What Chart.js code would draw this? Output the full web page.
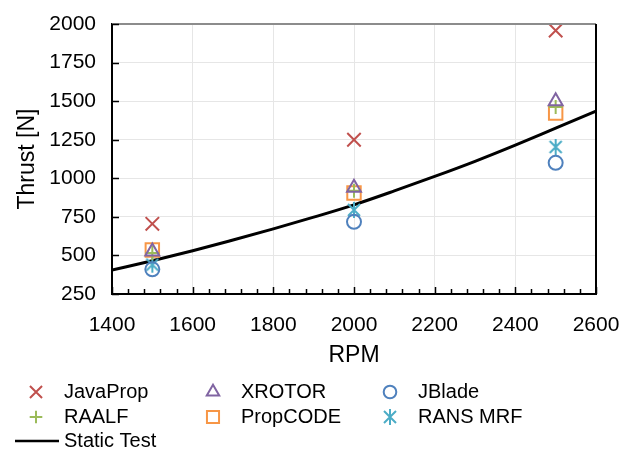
<!DOCTYPE html>
<html>
<head>
<meta charset="utf-8">
<script src="https://cdn.jsdelivr.net/npm/chart.js@4.4.1/dist/chart.umd.min.js"></script>
<style>
  html, body { margin: 0; padding: 0; background: #fff; }
  #wrap { width: 628px; height: 451px; position: relative; }
</style>
</head>
<body>
<div id="wrap"><canvas id="thrust"></canvas></div>
<script>
// rpm of the computed cases
const rpm = [1500, 2000, 2500];
const javaProp = [705, 1250, 1958];
const xrotor = [525, 938, 1500];
const raalf = [515, 920, 1462];
const propCode = [535, 905, 1423];
const ransMrf = [440, 795, 1203];
const jBlade = [410, 718, 1100];

// measured static test curve
const testRpm = [1400, 1500, 1600, 1700, 1800, 1900, 2000, 2100, 2200, 2300, 2400, 2500, 2600];
const testThrust = [405, 465, 530, 600, 672, 748, 828, 918, 1012, 1110, 1215, 1325, 1435];

const xTicks = [1400, 1600, 1800, 2000, 2200, 2400, 2600];
const yTicks = [250, 500, 750, 1000, 1250, 1500, 1750, 2000];

const FONT = 'Liberation Sans, Arial, sans-serif';

// six-arm asterisk marker (Chart.js 'star' has eight arms)
function asterisk(color) {
  const c = document.createElement('canvas');
  c.width = 18; c.height = 18;
  const g = c.getContext('2d');
  g.strokeStyle = color;
  g.lineWidth = 2;
  g.beginPath();
  g.moveTo(9, 1); g.lineTo(9, 17);
  g.moveTo(3, 3); g.lineTo(15, 15);
  g.moveTo(15, 3); g.lineTo(3, 15);
  g.stroke();
  return c;
}

function pts(ys) {
  return rpm.map((x, i) => ({ x: x, y: ys[i] }));
}

function marker(label, ys, style, color, radius) {
  return {
    label: label,
    data: pts(ys),
    showLine: false,
    pointStyle: style,
    pointRadius: radius,
    pointHoverRadius: radius,
    pointBorderWidth: 2,
    borderColor: color,
    backgroundColor: 'rgba(0,0,0,0)',
    pointBackgroundColor: 'rgba(0,0,0,0)'
  };
}

const datasets = [
  marker('JavaProp', javaProp, 'crossRot', '#C0504D', 9.5),
  marker('XROTOR', xrotor, 'triangle', '#8064A2', 8),
  marker('JBlade', jBlade, 'circle', '#4F81BD', 7),
  marker('RAALF', raalf, 'cross', '#9BBB59', 7),
  marker('PropCODE', propCode, 'rect', '#F79646', 9.5),
  marker('RANS MRF', ransMrf, asterisk('#4BACC6'), '#4BACC6', 9),
  {
    label: 'Static Test',
    data: testRpm.map((x, i) => ({ x: x, y: testThrust[i] })),
    showLine: true,
    borderColor: '#000',
    borderWidth: 3,
    pointRadius: 0,
    cubicInterpolationMode: 'monotone',
    fill: false
  }
];

// inward tick marks, top/right frame and the legend block under the axes
const decorations = {
  id: 'decorations',
  afterDraw(chart) {
    const ctx = chart.ctx;
    const xs = chart.scales.x, ys = chart.scales.y;
    const a = chart.chartArea;
    ctx.save();

    ctx.strokeStyle = '#8c8c8c';
    ctx.lineWidth = 2;
    ctx.beginPath();
    ctx.moveTo(a.left, a.top); ctx.lineTo(a.right, a.top);
    ctx.stroke();

    ctx.strokeStyle = '#000';
    ctx.lineWidth = 2;
    ctx.beginPath();
    ctx.moveTo(a.right, a.top); ctx.lineTo(a.right, a.bottom);
    ctx.stroke();

    ctx.lineWidth = 1.5;
    ctx.beginPath();
    for (let v = 1400; v <= 2600; v += 40) {
      const px = Math.round(xs.getPixelForValue(v)) + 0.5;
      const len = (v - 1400) % 200 === 0 ? 7 : 5;
      ctx.moveTo(px, a.bottom); ctx.lineTo(px, a.bottom - len);
    }
    yTicks.forEach(v => {
      const py = Math.round(ys.getPixelForValue(v)) + 0.5;
      ctx.moveTo(a.left, py); ctx.lineTo(a.left + 7, py);
    });
    ctx.stroke();

    // legend: three columns, the test curve on its own row
    const cols = [36, 213, 390];
    const rows = [392, 417, 441];
    ctx.font = '20px ' + FONT;
    ctx.textBaseline = 'middle';
    ctx.textAlign = 'left';
    chart.data.datasets.forEach((ds, i) => {
      const y = rows[Math.floor(i / 3)];
      if (ds.showLine === false) {
        const x = cols[i % 3];
        ctx.strokeStyle = ds.borderColor;
        ctx.fillStyle = 'rgba(0,0,0,0)';
        ctx.lineWidth = 2;
        Chart.helpers.drawPoint(ctx, {
          pointStyle: ds.pointStyle,
          radius: ds.pointRadius * 0.9,
          borderWidth: 2,
          rotation: 0
        }, x, y);
        ctx.fillStyle = '#000';
        ctx.fillText(ds.label, x + 28, y);
      } else {
        ctx.strokeStyle = ds.borderColor;
        ctx.lineWidth = 2.5;
        ctx.beginPath();
        ctx.moveTo(15, y); ctx.lineTo(59, y);
        ctx.stroke();
        ctx.fillStyle = '#000';
        ctx.fillText(ds.label, 64, y);
      }
    });
    ctx.restore();
  }
};

new Chart(document.getElementById('thrust'), {
  type: 'scatter',
  data: { datasets: datasets },
  plugins: [decorations],
  options: {
    responsive: true,
    maintainAspectRatio: false,
    animation: false,
    layout: { padding: { left: 14, top: 24, right: 32, bottom: 82 } },
    plugins: {
      legend: { display: false },
      tooltip: { enabled: false }
    },
    scales: {
      x: {
        type: 'linear',
        min: 1400,
        max: 2600,
        afterBuildTicks: s => { s.ticks = xTicks.map(v => ({ value: v })); },
        afterFit: s => { s.height = 75; s.paddingLeft = 0; s.paddingRight = 0; },
        ticks: {
          color: '#000',
          font: { family: FONT, size: 21 },
          padding: 19,
          maxRotation: 0,
          callback: v => String(v)
        },
        grid: { color: '#e6e6e6', lineWidth: 1, drawTicks: false },
        border: { color: '#000', width: 2 },
        title: {
          display: true,
          text: 'RPM',
          color: '#000',
          font: { family: FONT, size: 23 },
          padding: 0
        }
      },
      y: {
        type: 'linear',
        min: 250,
        max: 2000,
        afterBuildTicks: s => { s.ticks = yTicks.map(v => ({ value: v })); },
        afterFit: s => { s.width = 98; s.paddingTop = 0; s.paddingBottom = 0; },
        ticks: {
          color: '#000',
          font: { family: FONT, size: 21 },
          padding: 16,
          callback: v => String(v)
        },
        grid: { color: '#e6e6e6', lineWidth: 1, drawTicks: false },
        border: { color: '#000', width: 2 },
        title: {
          display: true,
          text: 'Thrust [N]',
          color: '#000',
          font: { family: FONT, size: 23 },
          padding: 0
        }
      }
    }
  }
});
</script>
</body>
</html>
